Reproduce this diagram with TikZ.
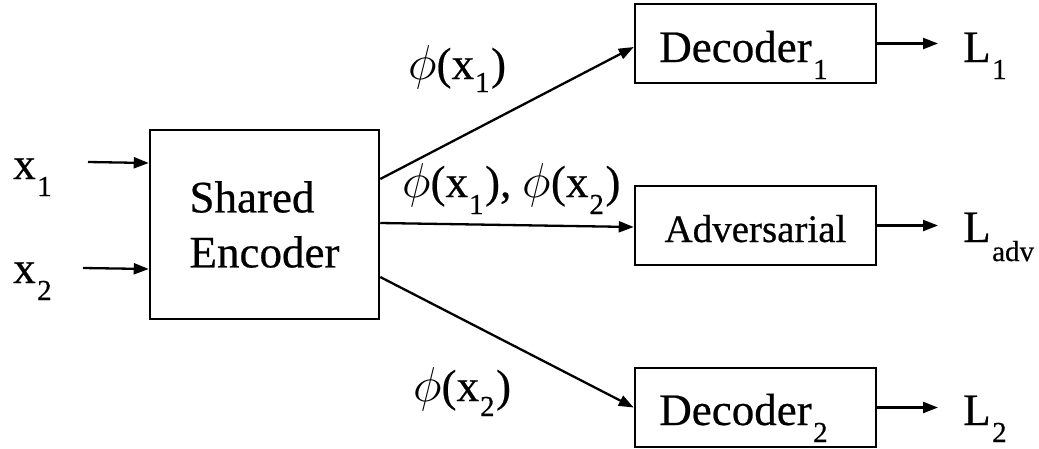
\RequirePackage{fix-cm}
\documentclass[tikz,border=0pt]{standalone}
\usepackage{fontspec}
\setmainfont{Liberation Serif}[FakeBold=0.5]
\usetikzlibrary{arrows.meta}
\newcommand\lowsub[2][17pt]{\kern1.5pt\raisebox{-#1}{\fontsize{29}{29}\selectfont #2}}
\newcommand\labsub[2][16pt]{\kern1pt\raisebox{-#1}{\fontsize{29}{29}\selectfont #2}\kern1.5pt}
\newcommand\bigtxt{\fontsize{45}{55}\selectfont}
\newcommand\midtxt{\fontsize{39}{47}\selectfont}
\newcommand\phisym{{\fontsize{49}{55}\selectfont$\phi$}}
\begin{document}
\begin{tikzpicture}[x=1pt,y=-1pt,
  box/.style={draw, line width=2.5pt, inner sep=0pt, minimum width=241pt, minimum height=79pt},
  conn/.style={line width=2.3pt, -{Triangle[length=15pt,width=11pt]}},
  lbl/.style={anchor=base west, inner sep=0pt, font=\bigtxt}]
\useasboundingbox (0,0) rectangle (1039,448);
% boxes
\node[box, minimum width=229pt, minimum height=189pt, align=left, font=\bigtxt] (enc) at (264.5,224.5) {Shared\\Encoder};
\node[box, font=\bigtxt, text height=50pt, text depth=13pt] (d1) at (755.5,43.5) {Decoder\lowsub{1}\hspace*{24pt}};
\node[box, font=\midtxt, text height=45pt, text depth=12pt] (adv) at (755.5,225.5) {Adversarial};
\node[box, font=\bigtxt, text height=48pt, text depth=13pt] (d2) at (755.5,407.5) {Decoder\lowsub{2}\hspace*{24pt}};
% inputs
\node[lbl] (x1) at (13,179) {x\lowsub{1}};
\node[lbl] (x2) at (13,283) {x\lowsub{2}};
\coordinate (in1) at (88,162);
\coordinate (in2) at (83,268);
\draw[conn] (in1) -- ([yshift=61.5pt]enc.west);
\draw[conn] (in2) -- ([yshift=-44.5pt]enc.west);
% encoder outputs
\draw[conn] ([yshift=45.5pt]enc.east) -- ([yshift=-3.5pt]d1.west);
\draw[conn] ([yshift=1.5pt]enc.east) -- ([yshift=-1.5pt]adv.west);
\draw[conn] ([yshift=-52.5pt]enc.east) -- (d2.west);
\node[lbl] (p1) at (408,79) {\phisym(x\labsub[13pt]{1})};
\node[lbl] (p12) at (402,197) {\phisym(x\labsub[17pt]{1}), \phisym(x\labsub[17pt]{2})};
\node[lbl] (p2) at (413,401) {\phisym(x\labsub[15pt]{2})};
% outputs
\coordinate (o1) at (938,43.5);
\coordinate (oa) at (938,225.5);
\coordinate (o2) at (938,407.5);
\draw[conn] (d1.east) -- (o1);
\draw[conn] (adv.east) -- (oa);
\draw[conn] (d2.east) -- (o2);
\node[lbl] (l1) at (963,62) {L\lowsub{1}};
\node[lbl] (la) at (963,242) {L\lowsub[19pt]{adv}};
\node[lbl] (l2) at (963,425) {L\lowsub{2}};
\end{tikzpicture}
\end{document}
